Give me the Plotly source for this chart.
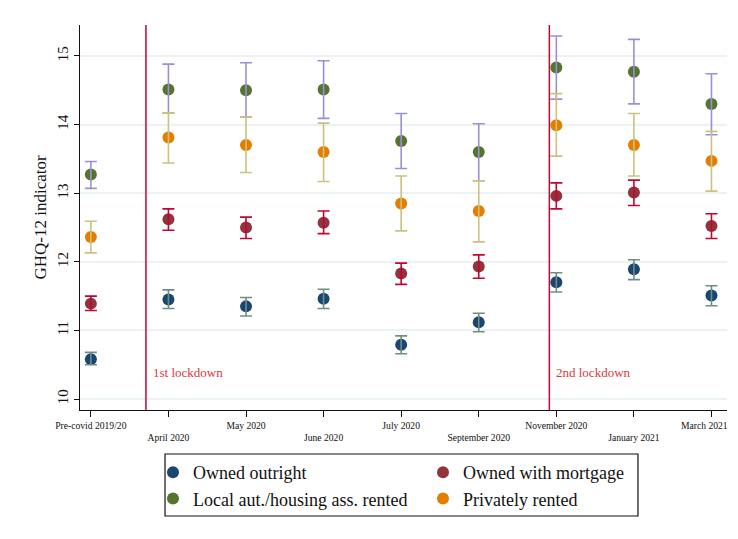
import plotly.graph_objects as go

periods = ["Pre-covid 2019/20", "April 2020", "May 2020", "June 2020", "July 2020",
           "September 2020", "November 2020", "January 2021", "March 2021"]
xpos = list(range(len(periods)))

outright = [10.58, 11.45, 11.35, 11.46, 10.79, 11.12, 11.70, 11.89, 11.51]
outright_lo = [10.50, 11.32, 11.21, 11.32, 10.66, 10.98, 11.56, 11.74, 11.36]
outright_hi = [10.68, 11.59, 11.48, 11.60, 10.92, 11.25, 11.84, 12.03, 11.65]

mortgage = [11.39, 12.62, 12.50, 12.57, 11.83, 11.93, 12.96, 13.01, 12.52]
mortgage_lo = [11.29, 12.46, 12.34, 12.41, 11.67, 11.76, 12.77, 12.82, 12.34]
mortgage_hi = [11.50, 12.77, 12.65, 12.74, 11.98, 12.10, 13.15, 13.19, 12.70]

local = [13.27, 14.51, 14.50, 14.51, 13.76, 13.60, 14.83, 14.77, 14.30]
local_lo = [13.07, 14.17, 14.11, 14.09, 13.36, 13.18, 14.37, 14.30, 13.85]
local_hi = [13.46, 14.88, 14.90, 14.93, 14.16, 14.01, 15.29, 15.24, 14.74]

private = [12.36, 13.81, 13.70, 13.60, 12.85, 12.74, 13.99, 13.70, 13.47]
private_lo = [12.13, 13.44, 13.30, 13.17, 12.45, 12.29, 13.54, 13.25, 13.03]
private_hi = [12.59, 14.17, 14.11, 14.02, 13.25, 13.18, 14.45, 14.16, 13.90]

lockdown_x = [0.71, 5.91]
lockdown_labels = ["1st lockdown", "2nd lockdown"]

series = [
    ("Owned outright", outright, outright_lo, outright_hi, "#1a476f", "#6e8e84", "legend"),
    ("Owned with mortgage", mortgage, mortgage_lo, mortgage_hi, "#90353b", "#c10534", "legend2"),
    ("Local aut./housing ass. rented", local, local_lo, local_hi, "#55752f", "#9a8fd8", "legend"),
    ("Privately rented", private, private_lo, private_hi, "#e37e00", "#cac27e", "legend2"),
]

FONT = "Liberation Serif"
fig = go.Figure()

for name, v, lo, hi, mc, cc, lg in series:
    fig.add_trace(go.Scatter(
        x=xpos, y=v, mode="markers", name=name, legend=lg,
        marker=dict(color=mc, size=12, line=dict(width=0)),
    ))
for name, v, lo, hi, mc, cc, lg in series:
    fig.add_trace(go.Scatter(
        x=xpos, y=v, mode="markers", showlegend=False, hoverinfo="skip",
        marker=dict(color=mc, size=1, opacity=0),
        error_y=dict(type="data", symmetric=False,
                     array=[h - c for h, c in zip(hi, v)],
                     arrayminus=[c - l for c, l in zip(v, lo)],
                     color=cc, thickness=1.6, width=6),
    ))

for lx, lab in zip(lockdown_x, lockdown_labels):
    fig.add_shape(type="line", xref="x", yref="paper", x0=lx, x1=lx, y0=0, y1=1,
                  line=dict(color="#c10534", width=1.5))
    fig.add_annotation(x=lx, y=10.39, xref="x", yref="y", text=lab, showarrow=False,
                       xanchor="left", xshift=5, font=dict(family=FONT, size=13, color="#d6393f"))

# y-axis title
fig.add_annotation(x=-0.0618, y=0.5, xref="paper", yref="paper", text="GHQ-12 indicator",
                   textangle=-90, showarrow=False, xanchor="center", yanchor="middle",
                   font=dict(family=FONT, size=17, color="#111"))

# legend frame
fig.add_shape(type="rect", xref="paper", yref="paper", x0=0.1314, x1=0.8624,
              y0=-0.1143, y1=-0.2753, line=dict(color="#111", width=1.2),
              fillcolor="rgba(0,0,0,0)")

ticktext = [p if i % 2 == 0 else "<br>" + p for i, p in enumerate(periods)]
# keep the last label inside the visible page
ticktext[-1] = ticktext[-1] + "&nbsp;" * 6

leg_common = dict(orientation="v", xref="container", yref="container", xanchor="left",
                  yanchor="top", y=0.1601, borderwidth=0, bgcolor="rgba(0,0,0,0)",
                  font=dict(family=FONT, size=18, color="#111"), itemwidth=30,
                  tracegroupgap=0)

fig.update_layout(
    width=730, height=531,
    margin=dict(l=72, r=11, t=17, b=129, autoexpand=False),
    paper_bgcolor="white", plot_bgcolor="white",
    font=dict(family=FONT, color="#222"),
    showlegend=True,
    legend=dict(x=0.1986, **leg_common),
    legend2=dict(x=0.5685, **leg_common),
    xaxis=dict(range=[-0.14, 8.2], tickmode="array", tickvals=xpos, ticktext=ticktext,
               tickfont=dict(family=FONT, size=9.6, color="#111"), automargin=False,
               ticklabeloverflow="allow",
               ticks="outside", ticklen=6, tickcolor="#111", showgrid=False,
               showline=True, linecolor="#111", linewidth=1.2, zeroline=False),
    yaxis=dict(range=[9.84, 15.45], tickvals=[10, 11, 12, 13, 14, 15], tickangle=-90,
               tickfont=dict(family=FONT, size=15, color="#111"), automargin=False,
               ticks="outside", ticklen=5, tickcolor="#111",
               showgrid=True, gridcolor="#eaf2f3", gridwidth=1.5,
               showline=True, linecolor="#111", linewidth=1.2, zeroline=False),
)

fig.write_html("out.html")
